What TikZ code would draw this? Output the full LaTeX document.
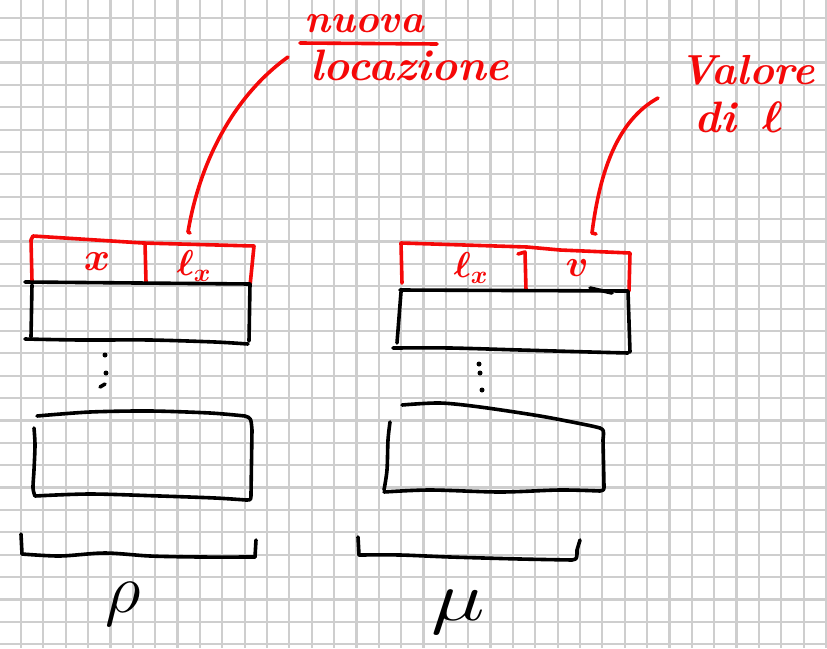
\RequirePackage{fix-cm}
\documentclass[tikz,border=0pt]{standalone}
\definecolor{gridgray}{RGB}{206,206,206}
\definecolor{inkred}{RGB}{245,8,8}
\begin{document}
\begin{tikzpicture}[x=1pt,y=-1pt,
  gridline/.style={draw=gridgray, line width=2.2pt},
  ink/.style={draw=black, line width=3.6pt, line cap=round, line join=round},
  redink/.style={draw=inkred, line width=3.6pt, line cap=round, line join=round},
  redtext/.style={text=inkred, inner sep=0pt, anchor=center},
  blacktext/.style={text=black, inner sep=0pt, anchor=center},
  ]
\useasboundingbox (0,0) rectangle (827,648);
\fill[white] (0,0) rectangle (827,648);

% squared paper
\foreach \i in {0,...,36}
  \draw[gridline] ({21+22.36*\i},0) -- ({21+22.36*\i},648);
\foreach \j in {0,...,28}
  \draw[gridline] (0,{17.8+22.37*\j}) -- (827,{17.8+22.37*\j});

% ---------- environment (left) ----------
% header row: x | l_x
\draw[redink] (32,281) -- (31,240) -- (33,236) -- (143,243) -- (254,246) -- (250,286);
\draw[redink] (145,243) -- (146,282);
\node[redtext, font=\fontsize{40}{42}\selectfont\boldmath] (envid) at (97,262) {$x$};
\node[redtext, font=\fontsize{36}{38}\selectfont\boldmath] (envloc) at (194,266) {$\ell_x$};
% first cell
\draw[ink] (25,282) -- (250,284) -- (249,341);
\draw[ink] (32,285) -- (31,337);
\draw[ink] plot[smooth] coordinates {(25,339) (80,340) (150,340) (215,342) (248,344)};
% dots
\fill (105,355) circle (2.5pt);
\fill (106,373) circle (2.5pt);
\draw[ink] (100,387) -- (105,384);
% last cell
\draw[ink] plot[smooth] coordinates {(37,416) (90,412) (150,411) (210,413) (245,416)};
\draw[ink] (245,416) .. controls (251,418) .. (252,430) -- (251,494) .. controls (251,500) .. (246,500);
\draw[ink] plot[smooth] coordinates {(34,428) (35,445) (34,470) (33,488) (35,496)};
\draw[ink] plot[smooth] coordinates {(35,496) (90,494) (160,496) (215,498) (246,500)};
% brace and name
\draw[ink] (21,534) -- (22,554);
\draw[ink] plot[smooth] coordinates {(22,554) (60,556) (105,553) (150,556) (200,557) (255,557)};
\draw[ink] (255,557) -- (256,540);
\node[blacktext, font=\fontsize{70}{72}\selectfont] (env) at (123,604) {$\rho$};

% ---------- memory (right) ----------
% header row: l_x | v
\draw[redink] (402,283) -- (401,243) -- (527,247) -- (560,250) -- (630,253) -- (629,291);
\draw[redink] (518,254) -- (525,252) -- (526,290);
\node[redtext, font=\fontsize{36}{38}\selectfont\boldmath] (memloc) at (471,268) {$\ell_x$};
\node[redtext, font=\fontsize{38}{40}\selectfont\boldmath] (memval) at (577,268) {$v$};
% first cell
\draw[ink] (400,290) -- (628,291) -- (630,352);
\draw[ink] (590,288) -- (612,293);
\draw[ink] (401,292) -- (397,343);
\draw[ink] plot[smooth] coordinates {(393,348) (450,348) (520,350) (590,352) (628,353)};
% dots
\fill (479,364) circle (2.5pt);
\fill (480,373) circle (2.5pt);
\fill (482,390) circle (2.5pt);
% last cell
\draw[ink] plot[smooth] coordinates {(402,405) (440,403) (480,407) (540,416) (587,425) (600,428)};
\draw[ink] (600,428) .. controls (604,430) .. (603,440) -- (604,486) .. controls (604,490) .. (600,491);
\draw[ink] plot[smooth] coordinates {(390,422) (388,440) (387,470) (384,490)};
\draw[ink] plot[smooth] coordinates {(384,492) (430,490) (500,492) (560,490) (600,491)};
% brace and name
\draw[ink] (358,537) -- (359,555);
\draw[ink] plot[smooth] coordinates {(359,555) (400,555) (450,557) (520,559) (572,560)};
\draw[ink] (572,560) .. controls (577,559) .. (577,550) -- (580,540);
\node[blacktext, font=\fontsize{70}{72}\selectfont, xscale=1.3] (mem) at (458,612) {$\mu$};

% ---------- notes ----------
\node[redtext, font=\fontsize{40}{42}\selectfont\bfseries\itshape] (nuova) at (364,24) {nuova};
\draw[redink] (300,43) -- (437,44);
\node[redtext, font=\fontsize{44}{46}\selectfont\bfseries\itshape] (locazione) at (410,65) {locazione};
\node[redtext, font=\fontsize{42}{44}\selectfont\bfseries\itshape] (valore) at (747,70) {Valore};
\node[redtext, font=\fontsize{44}{46}\selectfont\bfseries\itshape\boldmath] (dil) at (739,117) {di\, $\ell$};

% leaders
\coordinate (newfoot) at (188,232);
\coordinate (newhead) at (288,57);
\coordinate (valfoot) at (592,233);
\coordinate (valhead) at (658,98);
\draw[redink] (newfoot) -- ++(2,1);
\draw[redink] (newfoot) .. controls (200,160) and (235,95) .. (newhead);
\draw[redink] (valfoot) -- ++(4,1);
\draw[redink] (valfoot) .. controls (600,170) and (618,120) .. (valhead);
\end{tikzpicture}
\end{document}
